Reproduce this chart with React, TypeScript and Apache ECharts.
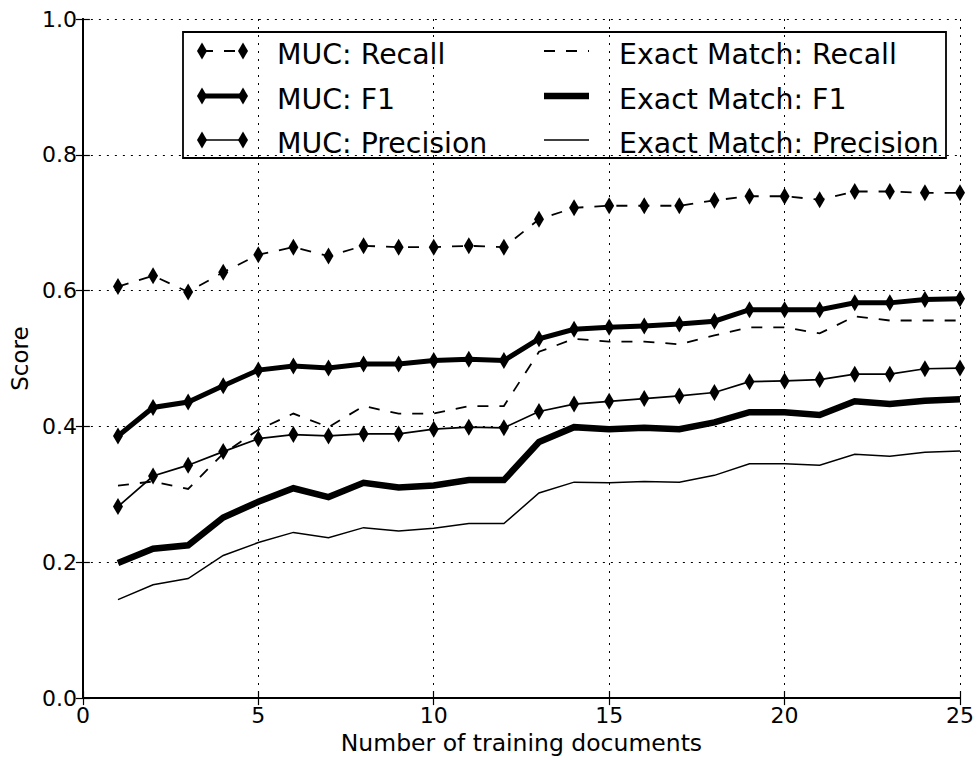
import React, { useEffect, useRef } from "react";
import * as echarts from "echarts";

const docs = [1, 2, 3, 4, 5, 6, 7, 8, 9, 10, 11, 12, 13, 14, 15, 16, 17, 18, 19, 20, 21, 22, 23, 24, 25];
const mucRecall = [0.606, 0.622, 0.598, 0.627, 0.653, 0.664, 0.651, 0.666, 0.664, 0.664, 0.666, 0.664, 0.705, 0.722, 0.725, 0.725, 0.725, 0.733, 0.739, 0.739, 0.734, 0.746, 0.746, 0.744, 0.744];
const mucF1 = [0.386, 0.428, 0.436, 0.46, 0.483, 0.489, 0.486, 0.492, 0.492, 0.497, 0.499, 0.497, 0.529, 0.543, 0.546, 0.548, 0.551, 0.555, 0.572, 0.572, 0.572, 0.582, 0.582, 0.587, 0.588];
const mucPrecision = [0.282, 0.327, 0.343, 0.363, 0.382, 0.388, 0.386, 0.389, 0.389, 0.396, 0.399, 0.398, 0.422, 0.433, 0.437, 0.441, 0.445, 0.45, 0.466, 0.467, 0.469, 0.477, 0.477, 0.485, 0.486];
const exactRecall = [0.313, 0.319, 0.308, 0.36, 0.395, 0.419, 0.399, 0.43, 0.419, 0.419, 0.43, 0.43, 0.51, 0.529, 0.525, 0.525, 0.521, 0.534, 0.546, 0.546, 0.537, 0.562, 0.556, 0.556, 0.556];
const exactF1 = [0.199, 0.22, 0.225, 0.266, 0.289, 0.309, 0.296, 0.317, 0.31, 0.313, 0.321, 0.321, 0.377, 0.399, 0.396, 0.398, 0.396, 0.406, 0.421, 0.421, 0.417, 0.437, 0.433, 0.438, 0.44];
const exactPrecision = [0.145, 0.167, 0.176, 0.21, 0.229, 0.244, 0.236, 0.251, 0.246, 0.25, 0.257, 0.257, 0.302, 0.318, 0.317, 0.319, 0.318, 0.328, 0.345, 0.345, 0.343, 0.359, 0.356, 0.362, 0.364];

const seriesNames = [
  "MUC: Recall",
  "MUC: F1",
  "MUC: Precision",
  "Exact Match: Recall",
  "Exact Match: F1",
  "Exact Match: Precision",
];
const xTicks = [0, 5, 10, 15, 20, 25];
const xAxisName = "Number of training documents";
const yAxisName = "Score";

const FONT = "DejaVu Sans";

type Style = { width: number; dash: number[] | "solid"; marker: boolean };
const styles: Style[] = [
  { width: 1.8, dash: [11, 11], marker: true },
  { width: 5, dash: "solid", marker: true },
  { width: 1.7, dash: "solid", marker: true },
  { width: 1.8, dash: [11, 11], marker: false },
  { width: 6.5, dash: "solid", marker: false },
  { width: 1.5, dash: "solid", marker: false },
];

function diamond(cx: number, cy: number) {
  return {
    type: "polygon",
    shape: { points: [[cx, cy - 8.5], [cx + 5, cy], [cx, cy + 8.5], [cx - 5, cy]] },
    style: { fill: "#000" },
  };
}

function buildLegend() {
  const els: any[] = [];
  els.push({
    type: "rect",
    shape: { x: 183, y: 32, width: 763, height: 126 },
    style: { fill: "#fff", stroke: "#000", lineWidth: 1.8 },
  });
  const rows = [51, 96, 140];
  const cols = [
    { x1: 202, x2: 243, tx: 277 },
    { x1: 544, x2: 589, tx: 619 },
  ];
  seriesNames.forEach((name, i) => {
    const c = cols[Math.floor(i / 3)];
    const y = rows[i % 3];
    const s = styles[i];
    els.push({
      type: "line",
      shape: { x1: c.x1, y1: y, x2: c.x2, y2: y },
      style: {
        stroke: "#000",
        lineWidth: s.width,
        lineDash: s.dash === "solid" ? null : s.dash,
      },
    });
    if (s.marker) {
      els.push(diamond(c.x1, y));
      els.push(diamond(c.x2, y));
    }
    els.push({
      type: "text",
      x: c.tx,
      y: y + 3,
      style: {
        text: name,
        fill: "#000",
        font: `28.4px "${FONT}"`,
        verticalAlign: "middle",
        align: "left",
      },
    });
  });
  return els;
}

const seriesData = [mucRecall, mucF1, mucPrecision, exactRecall, exactF1, exactPrecision];

export default function App() {
  const ref = useRef<HTMLDivElement>(null);
  useEffect(() => {
    if (!ref.current) return;
    const chart = echarts.init(ref.current, undefined, { renderer: "svg" });
    const axisCommon = {
      axisLine: { show: true, lineStyle: { color: "#000", width: 2 } },
      axisTick: { show: true, inside: true, length: 7, lineStyle: { color: "#000", width: 1.2 } },
    };
    chart.setOption({
      animation: false,
      backgroundColor: "#fff",
      textStyle: { fontFamily: FONT },
      grid: { left: 80, right: 18, top: 19, bottom: 60, containLabel: false },
      xAxis: [
        {
          type: "value",
          min: 0,
          max: 25,
          interval: 5,
          position: "bottom",
          name: xAxisName,
          nameLocation: "middle",
          nameGap: 31,
          nameTextStyle: { fontSize: 23.5, color: "#000", fontFamily: FONT },
          ...axisCommon,
          axisLabel: {
            fontSize: 22,
            color: "#000",
            fontFamily: FONT,
            margin: 6,
            formatter: (v: number) => (xTicks.includes(v) ? String(v) : ""),
          },
          splitLine: { show: true, lineStyle: { color: "#000", width: 1, type: [2, 6] } },
        },
        {
          type: "value",
          min: 0,
          max: 25,
          interval: 5,
          position: "top",
          ...axisCommon,
          axisLabel: { show: false },
          splitLine: { show: false },
        },
      ],
      yAxis: [
        {
          type: "value",
          min: 0,
          max: 1,
          interval: 0.2,
          position: "left",
          name: yAxisName,
          nameLocation: "middle",
          nameGap: 51,
          nameTextStyle: { fontSize: 23, color: "#000", fontFamily: FONT },
          ...axisCommon,
          axisLabel: {
            fontSize: 22,
            color: "#000",
            fontFamily: FONT,
            margin: 6,
            formatter: (v: number) => v.toFixed(1),
          },
          splitLine: { show: true, lineStyle: { color: "#000", width: 1, type: [2, 6] } },
        },
        {
          type: "value",
          min: 0,
          max: 1,
          interval: 0.2,
          position: "right",
          ...axisCommon,
          axisLabel: { show: false },
          splitLine: { show: false },
        },
      ],
      series: seriesNames.map((name, i) => ({
        name,
        type: "line",
        xAxisIndex: 0,
        yAxisIndex: 0,
        data: docs.map((d, j) => [d, seriesData[i][j]]),
        symbol: styles[i].marker ? "diamond" : "none",
        symbolSize: [10, 17],
        showSymbol: styles[i].marker,
        itemStyle: { color: "#000" },
        lineStyle: {
          color: "#000",
          width: styles[i].width,
          type: styles[i].dash,
          join: "miter",
        },
        z: 2 + i,
      })),
      graphic: { elements: buildLegend() as any },
    });
    return () => chart.dispose();
  }, []);
  return (
    <div
      ref={ref}
      style={{ position: "absolute", left: 0, top: 0, width: 978, height: 760 }}
    />
  );
}
